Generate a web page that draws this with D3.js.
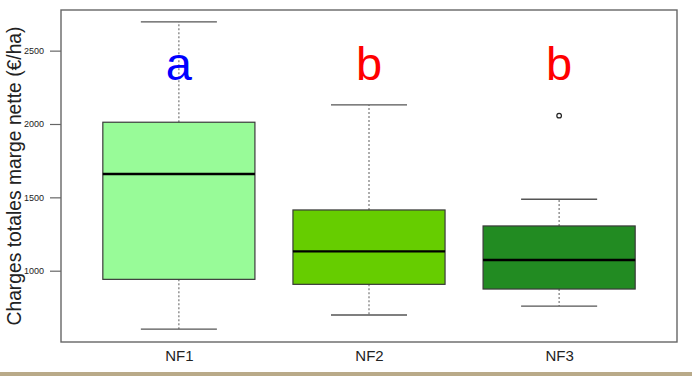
<!DOCTYPE html>
<html>
<head>
<meta charset="utf-8">
<script src="https://cdn.jsdelivr.net/npm/d3@7"></script>
<style>
  html, body { margin: 0; padding: 0; background: #fff; }
  svg { display: block; }
  text { font-family: "Liberation Sans", Arial, Helvetica, sans-serif; }
</style>
</head>
<body>
<svg id="chart" width="692" height="376"></svg>
<script>
// Boxplot summaries per farm group
const categories  = ["NF1", "NF2", "NF3"];
const whiskerLow  = [602, 698, 759];
const q1          = [941, 907, 875];
const medians     = [1659, 1132, 1073];
const q3          = [2012, 1414, 1305];
const whiskerHigh = [2696, 2130, 1487];
const outliers    = [[], [], [2057]];
const fills       = ["#98FB98", "#66CD00", "#228B22"];

// Significance groups written above each box
const groupLetters = ["a", "b", "b"];
const letterColors = ["#0000FF", "#FF0000", "#FF0000"];
const letterLevel  = 2300;

const yTicks = [1000, 1500, 2000, 2500];
const yTitle = "Charges totales marge nette (\u20AC/ha)";

const svg = d3.select("#chart");
const W = 692, H = 376;
const plot = { left: 61, right: 677, top: 10, bottom: 342 };

// R-style axes: positions 1..n with 4% padding
const x = d3.scaleLinear().domain([0.38, 3.62]).range([plot.left, plot.right]);
const y = d3.scaleLinear().domain([514, 2777]).range([plot.bottom, plot.top]);

const boxHalf = 0.4, capHalf = 0.2;

const data = categories.map((c, i) => ({
  name: c, pos: i + 1,
  lo: whiskerLow[i], q1: q1[i], med: medians[i], q3: q3[i], hi: whiskerHigh[i],
  out: outliers[i], fill: fills[i],
  letter: groupLetters[i], lcol: letterColors[i]
}));

// Tan band at the bottom of the page
svg.append("rect")
  .attr("x", 0).attr("y", 372).attr("width", W).attr("height", H - 372)
  .attr("fill", "#B9AA89");

const g = svg.append("g");

const box = g.selectAll("g.box").data(data).join("g").attr("class", "box");

// whiskers (dashed)
box.append("line")
  .attr("x1", d => x(d.pos)).attr("x2", d => x(d.pos))
  .attr("y1", d => y(d.q3)).attr("y2", d => y(d.hi))
  .attr("stroke", "#777").attr("stroke-width", 1.2).attr("stroke-dasharray", "2,2");
box.append("line")
  .attr("x1", d => x(d.pos)).attr("x2", d => x(d.pos))
  .attr("y1", d => y(d.q1)).attr("y2", d => y(d.lo))
  .attr("stroke", "#777").attr("stroke-width", 1.2).attr("stroke-dasharray", "2,2");

// staples
box.append("line")
  .attr("x1", d => x(d.pos - capHalf)).attr("x2", d => x(d.pos + capHalf))
  .attr("y1", d => y(d.hi)).attr("y2", d => y(d.hi))
  .attr("stroke", "#555").attr("stroke-width", 1.3);
box.append("line")
  .attr("x1", d => x(d.pos - capHalf)).attr("x2", d => x(d.pos + capHalf))
  .attr("y1", d => y(d.lo)).attr("y2", d => y(d.lo))
  .attr("stroke", "#555").attr("stroke-width", 1.3);

// boxes
box.append("rect")
  .attr("x", d => x(d.pos - boxHalf))
  .attr("width", d => x(d.pos + boxHalf) - x(d.pos - boxHalf))
  .attr("y", d => y(d.q3))
  .attr("height", d => y(d.q1) - y(d.q3))
  .attr("fill", d => d.fill)
  .attr("stroke", "#3a3a3a").attr("stroke-width", 1.2);

// medians
box.append("line")
  .attr("x1", d => x(d.pos - boxHalf)).attr("x2", d => x(d.pos + boxHalf))
  .attr("y1", d => y(d.med)).attr("y2", d => y(d.med))
  .attr("stroke", "#000").attr("stroke-width", 2.4);

// outliers
box.selectAll("circle").data(d => d.out.map(v => ({ pos: d.pos, v })))
  .join("circle")
  .attr("cx", d => x(d.pos)).attr("cy", d => y(d.v)).attr("r", 2.3)
  .attr("fill", "#fff").attr("stroke", "#222").attr("stroke-width", 1.2);

// group letters
box.append("text")
  .attr("x", d => x(d.pos)).attr("y", y(letterLevel))
  .attr("text-anchor", "middle")
  .attr("font-size", 47)
  .attr("fill", d => d.lcol)
  .text(d => d.letter);

// frame
g.append("rect")
  .attr("x", plot.left).attr("y", plot.top)
  .attr("width", plot.right - plot.left).attr("height", plot.bottom - plot.top)
  .attr("fill", "none").attr("stroke", "#666").attr("stroke-width", 1.4);

// y axis ticks and labels
const yAxis = d3.axisLeft(y).tickValues(yTicks).tickSize(11).tickPadding(6).tickFormat(d3.format("d"));
const ya = svg.append("g").attr("transform", `translate(${plot.left},0)`).call(yAxis);
ya.select(".domain").remove();
ya.selectAll(".tick line").attr("stroke", "#666").attr("stroke-width", 1.2);
ya.selectAll(".tick text").attr("font-size", 9).attr("fill", "#222")
  .attr("font-family", "'Liberation Sans', Arial, sans-serif");

// x axis labels
const xAxis = d3.axisBottom(x).tickValues(data.map(d => d.pos)).tickSize(0).tickPadding(8)
  .tickFormat((d, i) => categories[i]);
const xa = svg.append("g").attr("transform", `translate(0,${plot.bottom})`).call(xAxis);
xa.select(".domain").remove();
xa.selectAll(".tick text").attr("font-size", 15).attr("fill", "#222")
  .attr("font-family", "'Liberation Sans', Arial, sans-serif");

// y title
svg.append("text")
  .attr("transform", `translate(21,${(plot.top + plot.bottom) / 2}) rotate(-90)`)
  .attr("text-anchor", "middle")
  .attr("font-size", 19.3)
  .attr("fill", "#222")
  .text(yTitle);
</script>
</body>
</html>
